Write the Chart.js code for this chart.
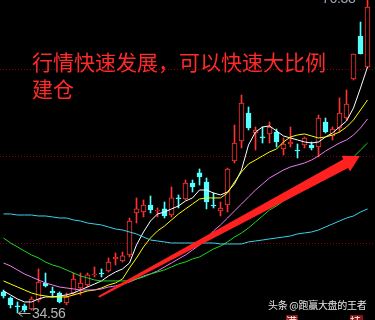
<!DOCTYPE html>
<html>
<head>
<meta charset="utf-8">
<style>
  html, body { margin: 0; padding: 0; background: #000; }
  #wrap { position: relative; width: 375px; height: 320px; overflow: hidden; background: #000; }
  #headline {
    position: absolute; left: 32px; top: 48px;
    font-family: "Noto Sans CJK SC", sans-serif; font-size: 21px; line-height: 27px;
    color: #ff2a2a; white-space: nowrap;
  }
  .price { position: absolute; font-family: "Liberation Sans", sans-serif; font-size: 14px; letter-spacing: -0.3px; }
  #hi { left: 322px; top: -10px; color: #9fa8b8; }
  #lo { left: 32px; top: 305px; color: #b4b4b4; }
  #mark {
    position: absolute; left: 268px; top: 300px;
    font-family: "Noto Sans CJK SC", sans-serif; font-size: 10px; line-height: 10px;
    letter-spacing: -0.3px; color: #e6e6e6; white-space: nowrap; text-shadow: 0 0 1px #000;
  }
  .tag {
    position: absolute; top: 315px; height: 8px; background: #8a1414; color: #fff;
    font-family: "Noto Sans CJK SC", sans-serif; font-size: 11px; line-height: 13px; overflow: hidden;
  }
</style>
</head>
<body>
<div id="wrap">
  <canvas id="kline"></canvas>
  <div id="headline">行情快速发展，可以快速大比例<br>建仓</div>
  <div class="price" id="hi">76.38</div>
  <div class="price" id="lo">34.56</div>
  <div id="mark">头条 @跑赢大盘的王者</div>
  <div class="tag" style="left:286px;width:12px">满</div>
  <div class="tag" style="left:350px;width:13px">持</div>
</div>

<script src="https://cdn.jsdelivr.net/npm/chart.js"></script>

<script>
  // daily candles
  const opens = [37.37,36.56,35.50,35.50,35.10,36.30,38.57,37.50,37.23,35.90,
    37.23,37.90,38.30,39.64,39.90,40.17,41.78,41.51,42.31,47.92,
    48.05,48.99,48.19,48.46,47.65,49.93,49.79,51.93,53.27,52.06,
    48.99,48.19,48.99,54.87,57.54,61.28,58.61,58.08,58.48,58.74,
    56.47,57.14,56.34,57.01,57.01,56.74,60.08,58.21,59.28,60.61,
    65.82,71.57,67.43];
  const highs = [37.63,36.70,36.03,35.76,36.70,40.44,39.90,38.03,37.37,37.23,
    39.90,39.90,39.90,40.71,40.44,41.91,42.58,42.71,47.25,49.93,
    49.66,50.19,48.59,49.39,51.40,50.33,52.33,52.33,53.80,52.60,
    50.59,49.39,53.93,59.68,63.69,62.08,59.41,59.41,60.08,59.14,
    57.94,59.41,57.14,58.08,57.41,61.01,60.61,59.41,63.29,64.35,
    69.17,73.44,76.38];
  const lows = [36.56,35.23,34.56,34.69,34.96,36.03,38.03,36.70,35.90,35.63,
    36.96,36.96,38.03,39.37,39.37,40.03,40.97,41.37,42.04,46.58,
    47.39,47.92,47.39,47.25,47.39,48.59,49.66,50.73,51.66,48.46,
    48.59,47.52,48.05,54.60,56.61,59.01,56.34,57.27,57.27,56.74,
    55.67,56.74,55.27,56.61,56.34,55.40,58.61,57.67,58.74,60.35,
    65.69,69.17,67.29];
  const closes = [36.83,35.63,35.36,34.96,36.43,38.70,38.17,37.23,36.03,36.70,
    39.10,38.57,39.64,39.77,39.77,41.37,42.04,42.18,46.85,48.46,
    48.99,48.32,48.32,47.52,49.93,49.79,51.93,51.40,52.73,49.39,
    48.85,48.59,53.80,57.27,62.62,59.28,59.01,57.94,59.41,57.41,
    57.14,57.41,56.20,57.94,56.61,60.61,58.74,59.14,61.28,62.48,
    69.17,69.17,75.45];

  // moving averages as drawn
  const ma5 = [37.50,36.97,36.43,36.03,36.03,36.43,36.70,36.70,36.83,36.97,
    37.23,37.63,38.03,38.43,38.84,39.50,40.04,40.44,41.24,43.65,
    45.38,46.85,47.79,48.05,48.46,48.86,49.52,49.93,50.99,50.99,
    50.59,50.33,50.73,51.80,53.67,57.01,58.74,59.41,59.55,58.88,
    58.21,57.94,57.68,57.41,57.27,57.41,58.08,58.61,59.41,60.21,
    61.95,64.62,67.43];
  const ma10 = [38.84,38.43,38.03,37.63,37.23,36.97,36.83,36.70,36.70,36.70,
    36.97,37.23,37.50,37.63,37.90,38.30,38.57,39.10,40.57,41.91,
    43.38,44.58,45.52,46.18,46.99,47.79,48.46,49.12,49.79,49.93,
    49.93,49.93,50.59,52.06,53.40,54.47,55.00,55.54,56.07,56.47,
    57.41,58.08,58.34,58.48,58.21,57.94,58.08,58.34,58.74,59.41,
    60.35,61.68,63.02];
  const ma20 = [41.24,40.84,40.31,39.77,39.37,38.97,38.57,38.30,38.03,37.90,
    37.77,37.63,37.63,37.63,37.77,38.03,38.17,38.43,38.70,39.10,
    39.50,39.77,40.17,40.71,41.24,41.78,42.31,42.98,43.65,44.58,
    45.52,46.32,47.25,48.19,49.12,50.06,50.99,51.80,52.60,53.13,
    53.67,54.07,54.33,54.60,55.00,55.54,56.20,56.74,57.27,57.68,
    58.34,59.28,60.48];
  const ma60 = [44.58,43.91,43.38,42.84,42.31,41.91,41.37,40.97,40.71,40.31,
    39.90,39.50,39.24,38.97,38.84,38.84,38.84,38.84,38.84,39.10,
    39.37,39.77,40.04,40.31,40.71,41.11,41.37,41.78,42.04,42.58,
    43.11,43.51,44.05,44.71,45.25,45.92,46.72,47.52,48.32,48.86,
    49.52,50.06,50.73,51.26,51.80,52.46,53.00,53.67,54.20,54.87,
    55.40,56.34,57.27];
  const ma120 = [47.79,47.79,47.65,47.65,47.65,47.52,47.52,47.39,47.25,47.25,
    46.99,46.85,46.58,46.45,46.32,46.05,45.78,45.65,45.38,45.12,
    44.71,44.31,44.18,44.05,43.91,43.91,43.91,43.91,43.91,43.91,
    43.91,43.78,43.78,43.78,43.78,44.05,44.18,44.31,44.45,44.58,
    44.71,44.85,45.12,45.25,45.38,45.65,46.05,46.45,46.85,47.25,
    47.52,48.05,48.46];

  const gridLevels = [67.16, 55.54, 43.91];
  // big arrow, [candle index, price]
  const arrowFrom = [13.6, 36.70];
  const arrowTo = [50.9, 55.54];

  const UP = '#ff3232';
  const DOWN = '#54ffff';
  const isUp = opens.map((o, i) => closes[i] >= o);

  const wicks = highs.map((h, i) => ({ x: i, y: [lows[i], h] }));
  const bodies = opens.map((o, i) => ({ x: i, y: [Math.min(o, closes[i]), Math.max(o, closes[i])] }));

  function maLine(values, color) {
    return {
      type: 'line',
      data: values.map((v, i) => ({ x: i, y: v })),
      borderColor: color,
      borderWidth: 1,
      pointRadius: 0,
      tension: 0,
      order: 1
    };
  }

  const overlay = {
    id: 'overlay',
    beforeDatasetsDraw(chart) {
      const { ctx, chartArea, scales: { y } } = chart;
      ctx.save();
      ctx.strokeStyle = '#8c0000';
      ctx.lineWidth = 1;
      ctx.setLineDash([1, 2]);
      gridLevels.forEach(v => {
        const py = Math.round(y.getPixelForValue(v)) + 0.5;
        ctx.beginPath();
        ctx.moveTo(chartArea.left, py);
        ctx.lineTo(chartArea.right, py);
        ctx.stroke();
      });
      ctx.restore();
    },
    afterDatasetsDraw(chart) {
      const { ctx, scales: { x, y } } = chart;
      ctx.save();

      // red trend arrow
      const x0 = x.getPixelForValue(arrowFrom[0]), y0 = y.getPixelForValue(arrowFrom[1]);
      const x1 = x.getPixelForValue(arrowTo[0]), y1 = y.getPixelForValue(arrowTo[1]);
      const len = Math.hypot(x1 - x0, y1 - y0);
      const ux = (x1 - x0) / len, uy = (y1 - y0) / len;
      const nx = -uy, ny = ux;
      const headLen = 16, headW = 9, tailW = 1, neckW = 5;
      const bx = x1 - ux * headLen, by = y1 - uy * headLen;
      ctx.fillStyle = '#ff2020';
      ctx.beginPath();
      ctx.moveTo(x0 + nx * tailW, y0 + ny * tailW);
      ctx.lineTo(bx + nx * neckW, by + ny * neckW);
      ctx.lineTo(bx + nx * headW, by + ny * headW);
      ctx.lineTo(x1, y1);
      ctx.lineTo(bx - nx * headW, by - ny * headW);
      ctx.lineTo(bx - nx * neckW, by - ny * neckW);
      ctx.lineTo(x0 - nx * tailW, y0 - ny * tailW);
      ctx.closePath();
      ctx.fill();

      // pointer to the lowest low
      const lowIdx = lows.indexOf(Math.min(...lows));
      const lx = x.getPixelForValue(lowIdx), ly = Math.round(y.getPixelForValue(lows[lowIdx])) + 0.5;
      ctx.strokeStyle = '#b4b4b4';
      ctx.lineWidth = 1;
      ctx.beginPath();
      ctx.moveTo(lx + 1, ly);
      ctx.lineTo(lx + 13, ly);
      ctx.moveTo(lx + 5, ly - 3);
      ctx.lineTo(lx + 1, ly);
      ctx.lineTo(lx + 5, ly + 3);
      ctx.stroke();

      ctx.restore();
    }
  };

  const ctx = document.getElementById('kline');
  new Chart(ctx, {
    type: 'bar',
    data: {
      datasets: [
        maLine(ma120, '#38d4ee'),
        maLine(ma60, '#1ed81e'),
        maLine(ma20, '#f07cf0'),
        maLine(ma10, '#ffff00'),
        maLine(ma5, '#ffffff'),
        {
          data: wicks,
          backgroundColor: isUp.map(u => u ? UP : DOWN),
          barThickness: 1,
          grouped: false,
          order: 3
        },
        {
          data: bodies,
          backgroundColor: isUp.map(u => u ? '#000000' : DOWN),
          borderColor: isUp.map(u => u ? UP : DOWN),
          borderWidth: 1,
          borderSkipped: false,
          barThickness: 5,
          grouped: false,
          order: 2
        }
      ]
    },
    options: {
      responsive: true,
      maintainAspectRatio: false,
      animation: false,
      layout: { padding: 0 },
      plugins: { legend: { display: false }, tooltip: { enabled: false } },
      scales: {
        x: { type: 'linear', min: -0.5, max: 53.07, offset: false, display: false },
        y: { min: 33.62, max: 76.38, display: false }
      }
    },
    plugins: [overlay]
  });
</script>
</body>
</html>
